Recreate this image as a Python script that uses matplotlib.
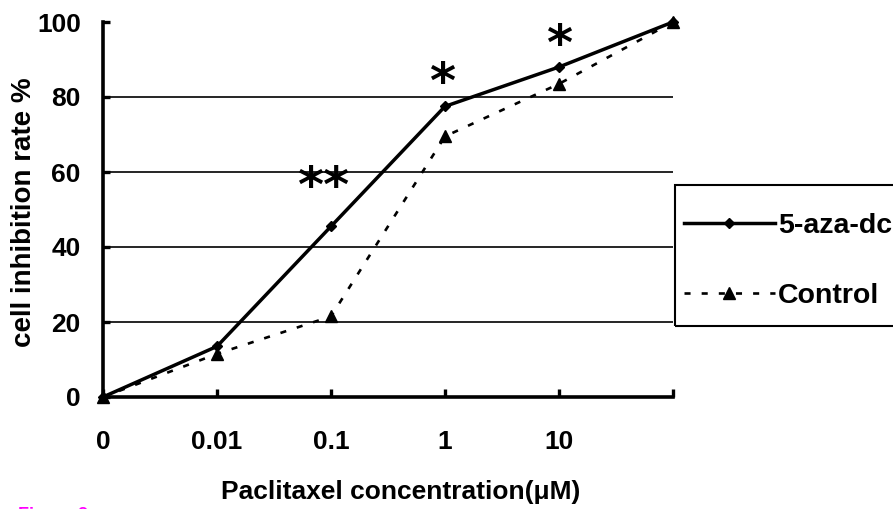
import matplotlib
matplotlib.use("Agg")
import matplotlib.pyplot as plt
from matplotlib.patches import Rectangle

# ---- data ----
x_labels = ["0", "0.01", "0.1", "1", "10", ""]
aza_values = [0, 13.5, 45.5, 77.5, 88, 100]
control_values = [0, 11.5, 21.5, 69.5, 83.5, 100]
series_names = ["5-aza-dc", "Control"]
star_texts = ["**", "*", "*"]
star_cats = [1.93, 2.97, 4.0]
star_vals = [58, 86, 96]
y_ticks = [0, 20, 40, 60, 80, 100]

plt.rcParams["font.family"] = ["Liberation Sans", "DejaVu Sans"]
plt.rcParams["font.weight"] = "bold"
FS = 19

W, H = 893, 509
fig = plt.figure(figsize=(W / 100, H / 100), dpi=100)
ax = fig.add_axes([103 / W, 1 - 397 / H, (673 - 103) / W, (397 - 22) / H])

xs = list(range(len(x_labels)))
ax.set_xlim(0, len(x_labels) - 1)
ax.set_ylim(0, 100)

# gridlines
ax.set_yticks(y_ticks)
ax.yaxis.grid(True, color="black", linewidth=1.2)
ax.set_axisbelow(True)
gl = ax.get_ygridlines()
gl[0].set_visible(False)
gl[-1].set_visible(False)

l2, = ax.plot(xs, control_values, color="black", linewidth=1.9, dashes=(2.3, 4.2),
              marker="^", markersize=9, clip_on=False, zorder=3)
l1, = ax.plot(xs, aza_values, color="black", linewidth=2.5, marker="D",
              markersize=5.5, clip_on=False, zorder=4)

# significance stars (glyph sits high in its box, so shift down a little)
for t, cx, cy in zip(star_texts, star_cats, star_vals):
    ax.annotate(t, (cx, cy), xytext=(0, -9), textcoords="offset pixels",
                fontsize=36, ha="center", va="center", fontweight="bold",
                family=["DejaVu Sans"])

for s in ["top", "right"]:
    ax.spines[s].set_visible(False)
for s in ["left", "bottom"]:
    ax.spines[s].set_linewidth(2.6)

ax.set_xticks(xs)
ax.set_xticklabels(x_labels)
ax.tick_params(axis="x", direction="in", length=6, width=2.4, pad=23.5, labelsize=FS)
ax.tick_params(axis="y", direction="in", length=5, width=2.4, pad=16, labelsize=FS)
for lab in ax.get_xticklabels() + ax.get_yticklabels():
    lab.set_fontweight("bold")

fig.text(24 / W, 1 - 212 / H, "cell inhibition rate %", rotation=90, ha="center",
         va="center", fontsize=20, fontweight="bold")
fig.text(401 / W, 1 - 492 / H, "Paclitaxel concentration(μM)", ha="center",
         va="center", fontsize=FS, fontweight="bold")
fig.text(18 / W, 1 - 507 / H, "Figure 2", ha="left", va="top", fontsize=13,
         color="#ff00ff")

# legend frame (extends past the right edge as in the reference)
fig.patches.append(Rectangle((675 / W, 1 - 326 / H), 240 / W, (326 - 185) / H,
                             transform=fig.transFigure, fill=False,
                             edgecolor="black", linewidth=1.5, figure=fig))
leg = fig.legend([l1, l2], series_names, loc="upper left",
                 bbox_to_anchor=(661 / W, 1 - 190 / H), borderaxespad=0,
                 fontsize=20.5, frameon=False,
                 borderpad=0.8, labelspacing=1.55, handlelength=3.2,
                 handletextpad=0.1, numpoints=1)
for t in leg.get_texts():
    t.set_fontweight("bold")

fig.savefig("out.png", dpi=100)
